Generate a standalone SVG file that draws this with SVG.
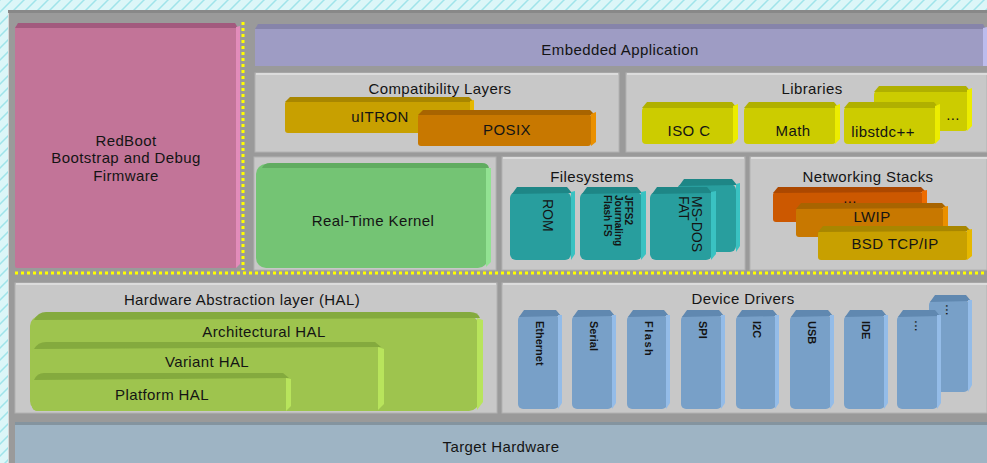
<svg xmlns="http://www.w3.org/2000/svg" width="987" height="463" viewBox="0 0 987 463">
<defs>
<pattern id="bgp" width="12" height="12" patternUnits="userSpaceOnUse">
<rect width="12" height="12" fill="#dcf6f8"/>
<path d="M0 12 L12 0 M-3 3 L3 -3 M9 15 L15 9" stroke="#9fe4ea" stroke-width="1.5"/>
</pattern>
<style>
text{font-family:"Liberation Sans",Arial,sans-serif;font-size:14px;fill:#141414;}
.c{text-anchor:middle;font-size:15px;letter-spacing:0.4px;}
.v{dominant-baseline:central;}
.panel{fill:#c8c8c8;stroke:#b2b2b2;stroke-width:1;}
.ptop{stroke:#dcdcdc;stroke-width:2;}
.dot{stroke:#ffff00;stroke-width:3;stroke-dasharray:3 3;fill:none;}
.rb{fill:#c27498;} .rbt{fill:#a25a7e;} .rbr{fill:#e28cba;}
.ea{fill:#9e9cc4;} .eat{fill:#8684aa;} .ear{fill:#bcbcec;}
.au{fill:#c8a000;} .aut{fill:#a88600;} .aur{fill:#e6b800;}
.or{fill:#c87800;} .ort{fill:#a86400;} .orr{fill:#ea9000;}
.rd{fill:#cc5800;} .rdt{fill:#ac4800;} .rdr{fill:#ee6c00;}
.ly{fill:#cccc00;} .lyt{fill:#b0b000;} .lyr{fill:#ecec00;}
.gk{fill:#74c474;} .gkt{fill:#60ac60;} .gkr{fill:#92e292;}
.tl{fill:#289e9e;} .tlt{fill:#1e8686;} .tlr{fill:#3ac2c2;}
.hl{fill:#9ec44e;} .hlt{fill:#84aa3e;} .hlr{fill:#b8e45c;}
.bl{fill:#78a0c8;} .blt{fill:#6088b0;} .blr{fill:#94bce8;}
.b{font-weight:bold;}
</style>
</defs>
<rect width="987" height="463" fill="url(#bgp)"/>
<rect x="8" y="10" width="979" height="453" fill="#9a9a9a"/>
<rect x="8" y="10" width="979" height="3" fill="#888888"/>
<rect x="8" y="13" width="1" height="450" fill="#d8d8d8"/>

<g id="redboot">
<rect class="rb" x="15" y="26" width="222" height="242" rx="2"/>
<polygon class="rbt" points="15,28 18,23 235,23 238,28"/>
<polygon class="rbr" points="236,27 240,26 240,264 236,268"/>
<text class="c" x="126" y="146">RedBoot</text>
<text class="c" x="126" y="163">Bootstrap and Debug</text>
<text class="c" x="126" y="181">Firmware</text>
</g>

<g id="separators">
<line class="dot" x1="243" y1="22" x2="243" y2="270"/>
<line class="dot" x1="15" y1="273" x2="987" y2="273"/>
</g>

<g id="embedded-application">
<rect class="ea" x="255" y="29" width="730" height="37"/>
<polygon class="eat" points="255,29 258,24 983,24 986,29"/>
<polygon class="ear" points="983,28 987,27 987,66 983,66"/>
<text class="c" x="620" y="55">Embedded Application</text>
</g>

<g id="compatibility-layers">
<rect class="panel" x="255" y="73" width="364" height="79"/>
<line class="ptop" x1="256" y1="74" x2="618" y2="74"/>
<text class="c" x="440" y="94">Compatibility Layers</text>
<g id="uitron">
<rect class="au" x="285" y="101" width="186" height="32" rx="3"/>
<polygon class="aut" points="285,102 290,97 469,97 474,102"/>
<polygon class="aur" points="470,101 474,100 474,129 470,133"/>
<text class="c" x="380" y="122">uITRON</text>
</g>
<g id="posix">
<rect class="or" x="418" y="114" width="173" height="32" rx="3"/>
<polygon class="ort" points="418,115 423,110 590,110 595,115"/>
<polygon class="orr" points="591,114 596,112 596,142 591,146"/>
<text class="c" x="507" y="135">POSIX</text>
</g>
</g>

<g id="libraries">
<rect class="panel" x="626" y="73" width="361" height="79"/>
<line class="ptop" x1="627" y1="74" x2="987" y2="74"/>
<text class="c" x="812" y="94">Libraries</text>
<g id="lib-more">
<rect class="ly" x="874" y="91" width="94" height="40" rx="4"/>
<polygon class="lyt" points="874,92 879,86 966,86 971,92"/>
<polygon class="lyr" points="967,90 972,88 972,126 967,131"/>
<text class="c" x="953" y="120">...</text>
</g>
<g id="iso-c">
<rect class="ly" x="642" y="107" width="92" height="37" rx="4"/>
<polygon class="lyt" points="642,108 647,102 732,102 737,108"/>
<polygon class="lyr" points="733,106 738,104 738,139 733,144"/>
<text class="c" x="689" y="136">ISO C</text>
</g>
<g id="math">
<rect class="ly" x="744" y="107" width="92" height="37" rx="4"/>
<polygon class="lyt" points="744,108 749,102 834,102 839,108"/>
<polygon class="lyr" points="835,106 840,104 840,139 835,144"/>
<text class="c" x="793" y="136">Math</text>
</g>
<g id="libstdcpp">
<rect class="ly" x="844" y="107" width="92" height="37" rx="4"/>
<polygon class="lyt" points="844,108 849,102 934,102 939,108"/>
<polygon class="lyr" points="935,106 940,104 940,139 935,144"/>
<text class="c" x="883" y="137">libstdc++</text>
</g>
</g>

<g id="real-time-kernel">
<rect class="panel" x="254" y="157" width="242" height="113"/>
<rect class="gk" x="256" y="164" width="232" height="104" rx="10"/>
<path class="gkt" d="M262,168 Q264,163 270,163 L482,163 Q488,163 489,168 Z"/>
<path class="gkr" d="M486,168 L491,168 L491,262 L486,267 Z"/>
<text class="c" x="373" y="226">Real-Time Kernel</text>
</g>

<g id="filesystems">
<rect class="panel" x="502" y="157" width="243" height="113"/>
<line class="ptop" x1="503" y1="158" x2="744" y2="158"/>
<text class="c" x="592" y="182">Filesystems</text>
<g id="fs-more">
<rect class="tl" x="677" y="184" width="59" height="68" rx="6"/>
<polygon class="tlt" points="679,186 684,179 732,179 737,185"/>
<polygon class="tlr" points="736,184 740,183 740,246 736,252"/>
<text class="v" transform="translate(719,196) rotate(90)">...</text>
</g>
<g id="rom">
<rect class="tl" x="510" y="192" width="61" height="68" rx="6"/>
<polygon class="tlt" points="512,194 517,187 567,187 572,193"/>
<polygon class="tlr" points="571,192 575,191 575,254 571,260"/>
<text class="v" transform="translate(548,199) rotate(90)">ROM</text>
</g>
<g id="jffs2">
<rect class="tl" x="580" y="192" width="62" height="68" rx="6"/>
<polygon class="tlt" points="582,194 587,187 637,187 642,193"/>
<polygon class="tlr" points="641,192 646,191 646,254 641,260"/>
<text class="v b" style="font-size:10px" transform="translate(628,195) rotate(90)">JFFS2</text>
<text class="v b" style="font-size:10px" transform="translate(618,195) rotate(90)">Journaling</text>
<text class="v b" style="font-size:10px" transform="translate(607,195) rotate(90)">Flash FS</text>
</g>
<g id="msdos">
<rect class="tl" x="650" y="192" width="62" height="68" rx="6"/>
<polygon class="tlt" points="652,194 657,187 707,187 712,193"/>
<polygon class="tlr" points="711,192 716,191 716,254 711,260"/>
<text class="v" transform="translate(697,196) rotate(90)">MS-DOS</text>
<text class="v" transform="translate(684,196) rotate(90)">FAT</text>
</g>
</g>

<g id="networking-stacks">
<rect class="panel" x="750" y="157" width="237" height="113"/>
<line class="ptop" x1="751" y1="158" x2="987" y2="158"/>
<text class="c" x="868" y="182">Networking Stacks</text>
<g id="net-more">
<rect class="rd" x="773" y="192" width="150" height="30" rx="3"/>
<polygon class="rdt" points="773,193 778,187 921,187 926,192"/>
<polygon class="rdr" points="922,191 927,190 927,218 922,222"/>
<text class="c" x="850" y="203">...</text>
</g>
<g id="lwip">
<rect class="or" x="796" y="208" width="148" height="29" rx="3"/>
<polygon class="ort" points="796,209 801,203 942,203 947,208"/>
<polygon class="orr" points="943,207 948,206 948,233 943,237"/>
<text class="c" x="872" y="222">LWIP</text>
</g>
<g id="bsd-tcpip">
<rect class="au" x="818" y="231" width="150" height="29" rx="3"/>
<polygon class="aut" points="818,232 823,226 966,226 971,231"/>
<polygon class="aur" points="967,230 972,229 972,256 967,260"/>
<text class="c" x="895" y="249">BSD TCP/IP</text>
</g>
</g>

<g id="hal">
<rect class="panel" x="15" y="283" width="482" height="130"/>
<line class="ptop" x1="16" y1="284" x2="496" y2="284"/>
<text class="c" x="242" y="305">Hardware Abstraction layer (HAL)</text>
<g id="architectural-hal">
<rect class="hl" x="30" y="316" width="449" height="95" rx="10"/>
<path class="hlt" d="M34,320 Q38,312 46,312 L470,312 Q478,312 480,318 Z"/>
<path class="hlr" d="M477,318 L483,320 L483,402 L477,410 Z"/>
<text class="c" x="264" y="337">Architectural HAL</text>
</g>
<g id="variant-hal">
<rect class="hl" x="32" y="346" width="348" height="65" rx="6"/>
<path class="hlt" d="M34,349 Q38,342 46,342 L375,342 L381,347 Z"/>
<path class="hlr" d="M378,347 L384,349 L384,404 L378,410 Z"/>
<text class="c" x="207" y="367">Variant HAL</text>
</g>
<g id="platform-hal">
<rect class="hl" x="32" y="377" width="256" height="34" rx="5"/>
<path class="hlt" d="M34,380 Q37,373 44,373 L283,373 L289,378 Z"/>
<path class="hlr" d="M286,378 L291,379 L291,406 L286,411 Z"/>
<text class="c" x="162" y="400">Platform HAL</text>
</g>
</g>

<g id="device-drivers">
<rect class="panel" x="502" y="283" width="485" height="130"/>
<line class="ptop" x1="503" y1="284" x2="987" y2="284"/>
<text class="c" x="743" y="304">Device Drivers</text>
<g id="dd-more-back">
<rect class="bl" x="929" y="300" width="40" height="92" rx="5"/>
<polygon class="blt" points="930,302 935,295 966,295 971,301"/>
<polygon class="blr" points="968,300 972,300 972,385 968,392"/>
<text class="v" transform="translate(951,304) rotate(90)">...</text>
</g>
<g id="ethernet">
<rect class="bl" x="518" y="315" width="41" height="94" rx="5"/>
<polygon class="blt" points="519,317 524,310 556,310 561,316"/>
<polygon class="blr" points="558,315 562,315 562,403 558,409"/>
<text class="v b" style="font-size:11px" transform="translate(540,321) rotate(90)">Ethernet</text>
</g>
<g id="serial">
<rect class="bl" x="572" y="315" width="41" height="94" rx="5"/>
<polygon class="blt" points="573,317 578,310 610,310 615,316"/>
<polygon class="blr" points="612,315 616,315 616,403 612,409"/>
<text class="v b" style="font-size:11px" transform="translate(594,321) rotate(90)">Serial</text>
</g>
<g id="flash">
<rect class="bl" x="627" y="315" width="40" height="94" rx="5"/>
<polygon class="blt" points="628,317 633,310 664,310 669,316"/>
<polygon class="blr" points="666,315 670,315 670,403 666,409"/>
<text class="v b" style="font-size:11px;letter-spacing:1.5px" transform="translate(649,321) rotate(90)">Flash</text>
</g>
<g id="spi">
<rect class="bl" x="681" y="315" width="41" height="94" rx="5"/>
<polygon class="blt" points="682,317 687,310 719,310 724,316"/>
<polygon class="blr" points="721,315 725,315 725,403 721,409"/>
<text class="v b" style="font-size:11px" transform="translate(703,321) rotate(90)">SPI</text>
</g>
<g id="i2c">
<rect class="bl" x="736" y="315" width="40" height="94" rx="5"/>
<polygon class="blt" points="737,317 742,310 773,310 778,316"/>
<polygon class="blr" points="775,315 779,315 779,403 775,409"/>
<text class="v b" style="font-size:11px" transform="translate(757,321) rotate(90)">I2C</text>
</g>
<g id="usb">
<rect class="bl" x="790" y="315" width="41" height="94" rx="5"/>
<polygon class="blt" points="791,317 796,310 828,310 833,316"/>
<polygon class="blr" points="830,315 834,315 834,403 830,409"/>
<text class="v b" style="font-size:11px" transform="translate(812,321) rotate(90)">USB</text>
</g>
<g id="ide">
<rect class="bl" x="844" y="315" width="41" height="94" rx="5"/>
<polygon class="blt" points="845,317 850,310 882,310 887,316"/>
<polygon class="blr" points="884,315 888,315 888,403 884,409"/>
<text class="v b" style="font-size:11px" transform="translate(866,321) rotate(90)">IDE</text>
</g>
<g id="dd-more">
<rect class="bl" x="897" y="315" width="41" height="94" rx="5"/>
<polygon class="blt" points="898,317 903,310 935,310 940,316"/>
<polygon class="blr" points="937,315 941,315 941,403 937,409"/>
<text class="v" transform="translate(920,320) rotate(90)">...</text>
</g>
</g>

<g id="target-hardware">
<rect x="15" y="422" width="972" height="41" fill="#9eb4c4"/>
<rect x="15" y="422" width="972" height="3" fill="#84949f"/>
<text class="c" x="501" y="452">Target Hardware</text>
</g>
</svg>
